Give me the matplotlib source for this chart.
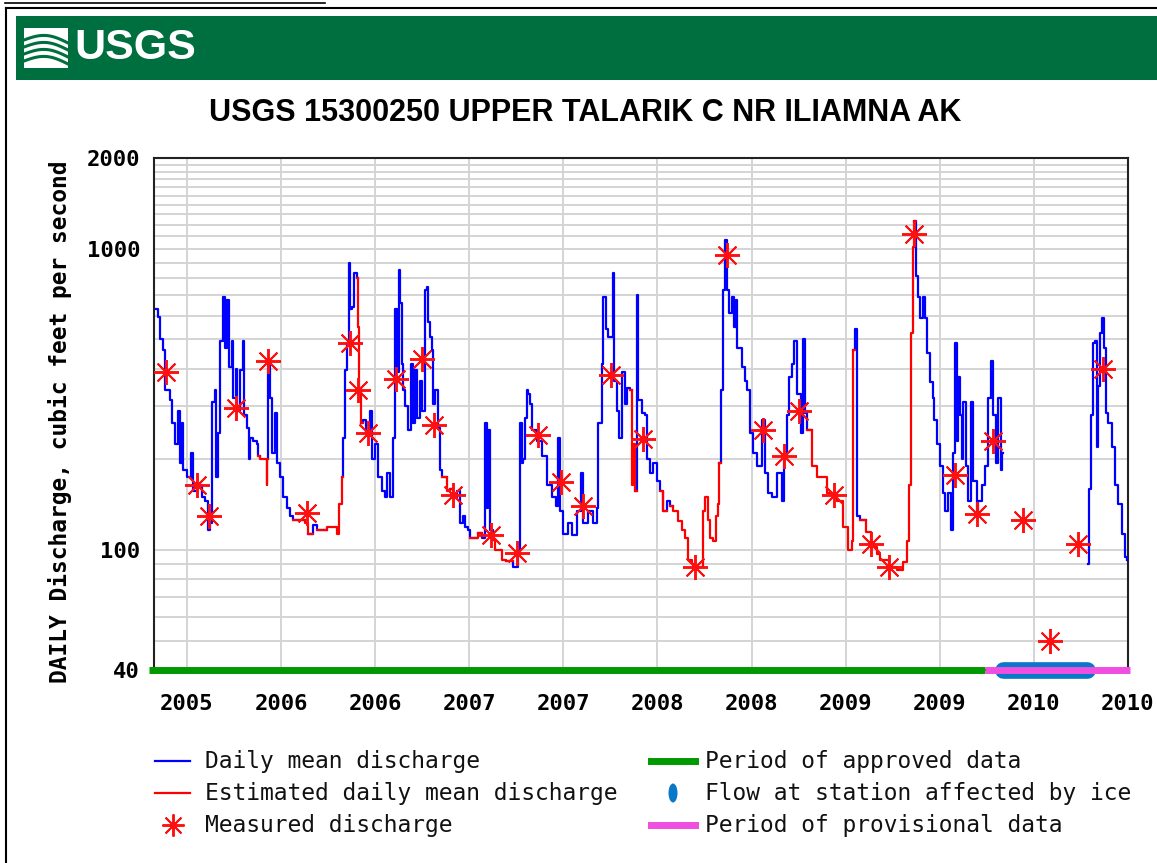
import numpy as np
import matplotlib
matplotlib.use("Agg")
import matplotlib.pyplot as plt
from matplotlib import font_manager
from matplotlib.lines import Line2D
from matplotlib.patches import Rectangle, Ellipse

W, H = 1157, 863

# ---- data (decimal year, cfs) ----
t = [2005.335, 2005.348, 2005.357, 2005.371, 2005.383, 2005.410, 2005.419, 2005.436, 2005.452, 2005.463,
     2005.472, 2005.479, 2005.498, 2005.520, 2005.533, 2005.552, 2005.578, 2005.596, 2005.613, 2005.622,
     2005.631, 2005.649, 2005.654, 2005.666, 2005.675, 2005.690, 2005.702, 2005.714, 2005.725, 2005.737,
     2005.746, 2005.760, 2005.767, 2005.782, 2005.796, 2005.803, 2005.820, 2005.831, 2005.835, 2005.852,
     2005.870, 2005.877, 2005.888, 2005.905, 2005.923, 2005.928, 2005.932, 2005.941, 2005.950, 2005.968,
     2005.977, 2005.994, 2006.012, 2006.030, 2006.047, 2006.065, 2006.127, 2006.144, 2006.171, 2006.189,
     2006.242, 2006.286, 2006.295, 2006.309, 2006.322, 2006.327, 2006.339, 2006.348, 2006.361, 2006.366,
     2006.378, 2006.389, 2006.402, 2006.409, 2006.415, 2006.423, 2006.437, 2006.451, 2006.472, 2006.481,
     2006.499, 2006.516, 2006.534, 2006.552, 2006.561, 2006.579, 2006.596, 2006.605, 2006.614, 2006.626,
     2006.632, 2006.641, 2006.649, 2006.658, 2006.676, 2006.689, 2006.699, 2006.711, 2006.724, 2006.738,
     2006.747, 2006.765, 2006.774, 2006.782, 2006.791, 2006.800, 2006.809, 2006.818, 2006.835, 2006.844,
     2006.853, 2006.880, 2006.897, 2006.913, 2006.933, 2006.950, 2006.968, 2006.977, 2006.995, 2007.004,
     2007.039, 2007.048, 2007.066, 2007.083, 2007.092, 2007.101, 2007.110, 2007.126, 2007.136, 2007.172,
     2007.195, 2007.234, 2007.260, 2007.269, 2007.278, 2007.287, 2007.296, 2007.305, 2007.313, 2007.322,
     2007.331, 2007.358, 2007.385, 2007.411, 2007.438, 2007.460, 2007.473, 2007.482, 2007.499, 2007.526,
     2007.544, 2007.570, 2007.592, 2007.606, 2007.632, 2007.659, 2007.677, 2007.685, 2007.703, 2007.712,
     2007.726, 2007.738, 2007.762, 2007.769, 2007.783, 2007.797, 2007.810, 2007.827, 2007.839, 2007.854,
     2007.864, 2007.872, 2007.880, 2007.889, 2007.898, 2007.916, 2007.933, 2007.942, 2007.960, 2007.977,
     2007.996, 2008.013, 2008.031, 2008.049, 2008.066, 2008.084, 2008.109, 2008.128, 2008.146, 2008.163,
     2008.181, 2008.199, 2008.235, 2008.243, 2008.252, 2008.270, 2008.279, 2008.296, 2008.311, 2008.323,
     2008.328, 2008.336, 2008.346, 2008.358, 2008.367, 2008.381, 2008.394, 2008.406, 2008.417, 2008.424,
     2008.447, 2008.465, 2008.474, 2008.491, 2008.509, 2008.527, 2008.553, 2008.571, 2008.588, 2008.607,
     2008.633, 2008.660, 2008.672, 2008.686, 2008.700, 2008.713, 2008.725, 2008.739, 2008.761, 2008.771,
     2008.783, 2008.792, 2008.819, 2008.846, 2008.899, 2008.952, 2008.987, 2009.014, 2009.032, 2009.040,
     2009.049, 2009.058, 2009.076, 2009.108, 2009.133, 2009.146, 2009.164, 2009.182, 2009.230, 2009.271,
     2009.306, 2009.324, 2009.338, 2009.345, 2009.356, 2009.364, 2009.373, 2009.385, 2009.394, 2009.412,
     2009.421, 2009.433, 2009.448, 2009.462, 2009.469, 2009.483, 2009.501, 2009.515, 2009.527, 2009.545,
     2009.559, 2009.568, 2009.580, 2009.589, 2009.596, 2009.607, 2009.616, 2009.625, 2009.639, 2009.651,
     2009.664, 2009.678, 2009.696, 2009.704, 2009.722, 2009.740, 2009.757, 2009.770, 2009.784, 2009.798,
     2009.810, 2009.823, 2009.829, 2009.835,
     2010.289, 2010.294, 2010.301, 2010.312, 2010.324, 2010.333, 2010.342, 2010.351, 2010.360, 2010.372,
     2010.383, 2010.395, 2010.413, 2010.430, 2010.448, 2010.466, 2010.484, 2010.497]
q = [630, 595, 500, 460, 340, 315, 265, 225, 290, 195,
     265, 185, 175, 210, 157, 165, 150, 145, 117, 123,
     310, 340, 175, 245, 495, 690, 470, 675, 405, 495,
     320, 400, 290, 395, 495, 280, 255, 200, 235, 230,
     225, 205, 200, 200, 165, 200, 430, 320, 210, 285,
     195, 175, 150, 138, 130, 126, 123, 113, 121, 117,
     119, 119, 113, 142, 175, 235, 395, 485, 900, 630,
     640, 830, 800, 550, 345, 265, 270, 245, 290, 200,
     225, 175, 157, 150, 180, 150, 235, 630, 390, 850,
     660, 415, 340, 300, 250, 415, 265, 395, 275, 365,
     290, 730, 745, 570, 510, 460, 305, 340, 255, 185,
     175, 157, 160, 150, 157, 123, 130, 119, 117, 110,
     110, 114, 110, 265, 138, 250, 117, 108, 100, 93,
     92, 88, 100, 265, 195, 200, 275, 340, 330, 305,
     250, 230, 205, 165, 150, 140, 235, 135, 113, 123,
     112, 135, 180, 123, 135, 123, 138, 265, 415, 690,
     540, 510, 830, 365, 290, 235, 390, 305, 345, 340,
     165, 225, 157, 700, 315, 285, 280, 200, 180, 195,
     170, 157, 135, 145, 140, 135, 125, 117, 110, 93,
     90, 88, 88, 135, 150, 126, 110, 107, 130, 142,
     195, 340, 730, 1070, 730, 610, 690, 550, 675, 470,
     405, 365, 340, 245, 210, 190, 270, 180, 155, 150,
     180, 145, 200, 280, 375, 415, 495, 330, 245, 500,
     285, 250, 190, 175, 155, 145, 119, 100, 107, 460,
     540, 130, 126, 115, 105, 102, 97, 93, 88, 86,
     91, 107, 165, 525, 1010, 1240, 810, 690, 590, 690,
     590, 450, 360, 320, 270, 225, 190, 155, 135, 155,
     117, 210, 485, 230, 375, 280, 200, 310, 190, 145,
     310, 170, 135, 145, 165, 190, 320, 425, 280, 195,
     320, 185, 210, np.nan,
     90, 160, 280, 485, 495, 220, 350, 525, 590, 470,
     285, 265, 220, 165, 142, 113, 95, 93]

# periods of estimated daily values (start, end) in decimal year
est_periods = [(2005.877, 2005.923), (2006.065, 2006.127), (2006.189, 2006.309),
               (2006.402, 2006.415), (2006.853, 2006.880), (2007.004, 2007.039),
               (2007.126, 2007.172), (2007.854, 2007.872), (2008.013, 2008.013),
               (2008.066, 2008.323), (2008.792, 2009.032), (2009.076, 2009.356)]

meas_t = [2005.388, 2005.552, 2005.617, 2005.760, 2005.932, 2006.136, 2006.366, 2006.410, 2006.463,
          2006.610, 2006.750, 2006.814, 2006.915, 2007.114, 2007.252, 2007.367, 2007.486, 2007.602,
          2007.751, 2007.921, 2008.199, 2008.367, 2008.559, 2008.674, 2008.752, 2008.938, 2009.133,
          2009.230, 2009.364, 2009.580, 2009.696, 2009.781, 2009.940, 2010.085, 2010.236, 2010.365]
meas_q = [390, 165, 130, 295, 425, 133, 485, 340, 245,
          370, 430, 260, 152, 112, 98, 240, 168, 140,
          380, 233, 88, 955, 250, 205, 290, 152, 105,
          88, 1120, 178, 132, 230, 126, 50, 105, 400]

approved = (2005.30, 2009.740)
provisional = (2009.740, 2010.51)
ice = (2009.835, 2010.281)

tick_pos = [2005.5, 2006.0, 2006.5, 2007.0, 2007.5, 2008.0, 2008.5, 2009.0, 2009.5, 2010.0, 2010.5]
tick_lab = ['2005', '2006', '2006', '2007', '2007', '2008', '2008', '2009', '2009', '2010', '2010']
ygrid = [40, 50, 60, 70, 80, 90, 100, 200, 300, 400, 500, 600, 700, 800, 900,
         1000, 1100, 1200, 1300, 1400, 1500, 1600, 1700, 1800, 1900, 2000]

title = 'USGS 15300250 UPPER TALARIK C NR ILIAMNA AK'

# narrow sans if there is one, else squeeze the regular one
installed = {f.name for f in font_manager.fontManager.ttflist}
if 'Liberation Sans Narrow' in installed:
    narrow, title_size, logo_size = 'Liberation Sans Narrow', 26, 38
else:
    narrow, title_size, logo_size = 'Liberation Sans', 22, 31

# ---- figure ----
fig = plt.figure(figsize=(W / 100, H / 100), dpi=100)
fig.patch.set_facecolor('white')


def fx(x):
    return np.asarray(x) / W


def fy(y):
    return 1 - np.asarray(y) / H


# page border + clipped link underline
fig.add_artist(Line2D([fx(6), fx(6)], [fy(8), fy(863)], color='black', lw=1.5))
fig.add_artist(Line2D([fx(6), fx(1157)], [fy(8), fy(8)], color='black', lw=1.5))
fig.add_artist(Line2D([fx(5), fx(325)], [fy(3.5), fy(3.5)], color='black', lw=1.2))

# green banner with logo
fig.add_artist(Rectangle((fx(16), fy(80)), fx(1157 - 16), 64 / H, color='#006f3f', lw=0))
fig.add_artist(Rectangle((fx(24), fy(68)), fx(44), 40 / H, color='white', lw=0))
s = np.linspace(0, 1, 40)
for off in [40, 47, 54, 61]:
    xs = 24 + 44 * s
    ys = off - 6 * np.sin(np.pi * s) + 3 * s
    fig.add_artist(Line2D(fx(xs), fy(ys), color='#006f3f', lw=2.2))
fig.text(fx(74), fy(48), 'USGS', color='white', fontsize=logo_size, fontweight='bold',
         family=narrow, ha='left', va='center')

fig.text(fx(585), fy(113), title, fontsize=title_size, fontweight='bold',
         family=narrow, ha='center', va='center')

# ---- axes ----
ax = fig.add_axes([fx(154), fy(670), fx(1128 - 154), (670 - 158) / H])
ax.set_yscale('log')
ax.set_ylim(40, 2000)
ax.set_xlim(2005.325, 2010.5)

tt = np.array(t)
qq = np.array(q, dtype=float)
ee = np.zeros(len(tt), dtype=bool)
for a, b in est_periods:
    ee |= (tt >= a - 1e-4) & (tt <= b + 1e-4)
prev = np.r_[ee[0], ee[:-1]]
blue_mask = (~ee) | (~prev)
red_mask = ee | prev
ax.plot(tt, np.where(blue_mask, qq, np.nan), color='#0000ff', lw=1.6,
        drawstyle='steps-post', zorder=3)
ax.plot(tt, np.where(red_mask, qq, np.nan), color='#ff0000', lw=1.6,
        drawstyle='steps-post', zorder=3)
ax.plot(meas_t, meas_q, linestyle='none', marker=(8, 2, 0), markersize=18,
        mec='#ff1010', mew=1.4, zorder=4)
ax.plot(meas_t, meas_q, linestyle='none', marker='o', markersize=4,
        color='#ff1010', mew=0, zorder=4)

# period bars along the bottom
ax.plot(approved, [40, 40], color='#009a00', lw=5, solid_capstyle='butt',
        clip_on=False, zorder=6)
ax.plot(provisional, [40, 40], color='#f04ee0', lw=5, solid_capstyle='butt',
        clip_on=False, zorder=6)
ax.plot(ice, [40, 40], color='#0a78c8', lw=12, solid_capstyle='round',
        clip_on=False, zorder=5)

ax.set_xticks(tick_pos)
ax.set_xticklabels(tick_lab)
ax.set_yticks([40, 100, 1000, 2000])
ax.set_yticklabels(['40', '100', '1000', '2000'])
ax.set_yticks(ygrid, minor=True)
ax.yaxis.set_minor_formatter(matplotlib.ticker.NullFormatter())
ax.grid(which='both', axis='y', color='#d4d4d4', lw=1.4)
ax.grid(which='major', axis='x', color='#d4d4d4', lw=1.4)
ax.set_axisbelow(True)
ax.tick_params(which='both', length=0)
ax.tick_params(axis='x', pad=17)
ax.tick_params(axis='y', pad=10)
mono = ['DejaVu Sans Mono']
for lab in ax.get_xticklabels() + ax.get_yticklabels():
    lab.set_family(mono)
    lab.set_fontweight('bold')
    lab.set_fontsize(16)
for sp in ax.spines.values():
    sp.set_color('#222222')
    sp.set_linewidth(1.5)

fig.text(fx(60), fy(422), 'DAILY Discharge, cubic feet per second', rotation=90,
         family=mono, fontweight='bold', fontsize=16.5, ha='center', va='center')

# ---- legend ----
lk = dict(family=mono, fontsize=16.5, ha='left', va='center', color='#111111')
fig.add_artist(Line2D([fx(155), fx(190)], [fy(761), fy(761)], color='#0000ff', lw=1.6))
fig.text(fx(205), fy(761), 'Daily mean discharge', **lk)
fig.add_artist(Line2D([fx(155), fx(190)], [fy(793), fy(793)], color='#ff0000', lw=1.6))
fig.text(fx(205), fy(793), 'Estimated daily mean discharge', **lk)
fig.add_artist(Line2D([fx(173)], [fy(825)], marker=(8, 2, 0), markersize=16,
                      mec='#ff1010', mew=1.4, linestyle='none'))
fig.text(fx(205), fy(825), 'Measured discharge', **lk)
fig.add_artist(Line2D([fx(651), fx(695)], [fy(761), fy(761)], color='#009a00', lw=5))
fig.text(fx(705), fy(761), 'Period of approved data', **lk)
fig.add_artist(Ellipse((fx(673), fy(793)), 9 / W, 19 / H, color='#0a78c8', lw=0))
fig.text(fx(705), fy(793), 'Flow at station affected by ice', **lk)
fig.add_artist(Line2D([fx(651), fx(695)], [fy(825), fy(825)], color='#f04ee0', lw=5))
fig.text(fx(705), fy(825), 'Period of provisional data', **lk)

fig.savefig('out.png', dpi=100)
